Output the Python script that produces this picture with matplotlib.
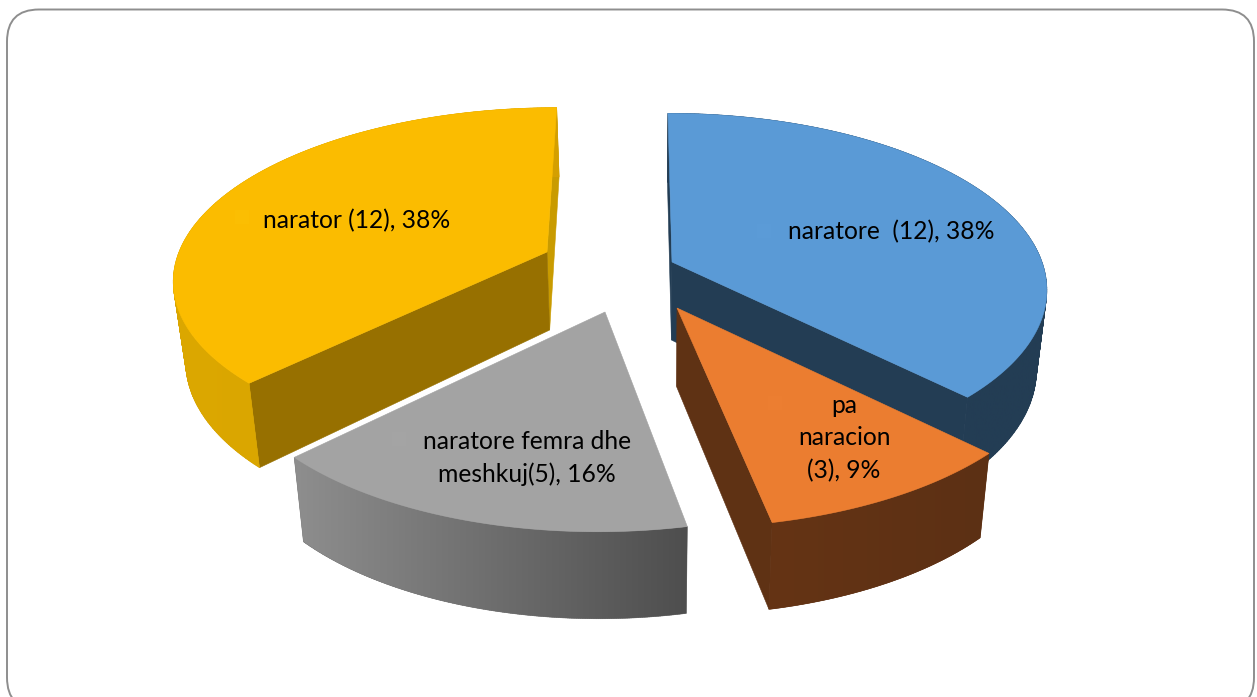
import numpy as np
import matplotlib
matplotlib.use("Agg")
import matplotlib.pyplot as plt
from matplotlib.patches import FancyBboxPatch, Rectangle, PathPatch
from matplotlib.path import Path
from matplotlib.collections import PolyCollection
from matplotlib.colors import to_rgb, LinearSegmentedColormap

# data (clockwise from 12 o'clock)
categories = ["naratore ", "pa naracion", "naratore femra dhe meshkuj", "narator"]
counts = [12, 3, 5, 12]
percents = [38, 9, 16, 38]
label_lines = [
    ["naratore  (12), 38%"],
    ["pa", "naracion", "(3), 9%"],
    ["naratore femra dhe", "meshkuj(5), 16%"],
    ["narator (12), 38%"],
]

# styles
top_colors = ["#5A9AD6", "#EB7D30", "#A3A3A3", "#FBBC00"]
rim_left = ["#233D54", "#653415", "#8E8E8E", "#DCA800"]
rim_right = ["#233D54", "#5C3014", "#4E4E4E", "#D49F00"]
cut_colors = ["#233D54", "#5F3214", "#808080", "#977000"]
apexes = [(672, 262), (677, 308), (605, 312), (547, 252)]   # exploded slice apex, px
label_pos = [(891, 232), (844, 438), (527, 458), (357, 221)]
marker_pos = [(757, 224), (768, 396), (392, 432), (235, 210)]
marker_colors = ["#5B9BD7", "#EC7E31", "#A4A4A4", "#FBBE02"]

# per-slice projection: horizontal radius, vertical radius, perspective, convergence
RXS = [370, 378, 374, 368]
RYS = [171, 178, 178, 166]
KS = [0.15, 0.19, 0.19, 0.15]
CONVS = [0.11, 0.11, 0.25, 0.11]
VX, SHRINK, SX = 635, 0.026, 650
D0, D1 = 78, 9

fig = plt.figure(figsize=(12.57, 6.97), dpi=100, facecolor="white")
ax = fig.add_axes([0, 0, 1, 1])
ax.set_xlim(0, 1257)
ax.set_ylim(697, 0)
ax.axis("off")

ax.add_patch(FancyBboxPatch((7, 9.5), 1247, 700, boxstyle="round,pad=0,rounding_size=32",
                            fc="white", ec="#8E8E8E", lw=1.4))


def top(theta, i):
    X, Y = np.sin(theta), np.cos(theta)
    w = 1 + KS[i] * Y
    apex = apexes[i]
    x = apex[0] + RXS[i] * X / w + (VX - apex[0]) * CONVS[i] * Y
    y = apex[1] - RYS[i] * Y / w
    return x, y


def drop(x, y, theta):
    return x + (SX - x) * SHRINK, y + D0 - D1 * np.cos(theta)


def quad(xs, ys, color, z):
    ax.fill(xs, ys, fc=color, ec=color, lw=0.4, zorder=z)


def cut_face(i, e, color, z):
    apex = apexes[i]
    ex, ey = top(e, i)
    ebx, eby = drop(ex, ey, e)
    abx, aby = apex[0] + (SX - apex[0]) * SHRINK, apex[1] + D0
    quad([apex[0], ex, ebx, abx], [apex[1], ey, eby, aby], color, z)


def oriented(q):
    x, y = q[:, 0], q[:, 1]
    area = np.sum(x * np.roll(y, -1) - np.roll(x, -1) * y)
    return q if area >= 0 else q[::-1]


fractions = np.array(counts) / np.sum(counts)
edges = np.concatenate([[0], np.cumsum(fractions)]) * 2 * np.pi
order = [3, 2, 0, 1]

for rank, i in enumerate(order):
    a, b = edges[i], edges[i + 1]
    apex = apexes[i]
    z = 10 + rank * 10
    th = np.linspace(a, b, 200)
    tx, ty = top(th, i)
    bx, by = drop(tx, ty, th)

    # straight cut faces
    if i == 0:
        cut_face(i, a, cut_colors[i], z)
    if i == 3:
        cut_face(i, b, "#C99B00", z)
    if i in (0, 1):
        cut_face(i, b, cut_colors[i], z + 1)
    if i == 3:
        cut_face(i, a, cut_colors[i], z + 1)

    # outer rim: union of small quads, gradient clipped to it
    quads = [oriented(np.array([[tx[j], ty[j]], [tx[j + 1], ty[j + 1]],
                                [bx[j + 1], by[j + 1]], [bx[j], by[j]]]))
             for j in range(len(th) - 1)]
    mean = tuple((np.array(to_rgb(rim_left[i])) + np.array(to_rgb(rim_right[i]))) / 2)
    ax.add_collection(PolyCollection(quads, facecolors=[mean], edgecolors=[mean],
                                     linewidths=0.4, zorder=z + 2))
    codes = [Path.MOVETO, Path.LINETO, Path.LINETO, Path.LINETO, Path.CLOSEPOLY]
    clip = Path.make_compound_path(*[Path(np.vstack([q, q[0]]), codes) for q in quads])
    xmin, xmax = min(tx.min(), bx.min()), max(tx.max(), bx.max())
    ymin, ymax = min(ty.min(), by.min()), max(ty.max(), by.max())
    cmap = LinearSegmentedColormap.from_list("rim", [rim_left[i], rim_right[i]])
    im = ax.imshow(np.linspace(0, 1, 256)[None, :], cmap=cmap, aspect="auto",
                   extent=(xmin, xmax, ymax, ymin), zorder=z + 2.5)
    im.set_clip_path(PathPatch(clip, transform=ax.transData))

    # top surface
    ax.fill(np.r_[apex[0], tx], np.r_[apex[1], ty], fc=top_colors[i], ec=top_colors[i],
            lw=0.4, zorder=z + 3)
    mx, my = marker_pos[i]
    ax.add_patch(Rectangle((mx, my), 14, 14, fc=marker_colors[i], ec="none", zorder=z + 4))

ax.set_xlim(0, 1257)
ax.set_ylim(697, 0)

for lines, (lx, ly) in zip(label_lines, label_pos):
    ax.text(lx, ly, "\n".join(lines), ha="center", va="center", family="Lato", fontsize=17.7,
            color="black", linespacing=1.5, zorder=100)

fig.savefig("out.png", dpi=100, facecolor="white")
